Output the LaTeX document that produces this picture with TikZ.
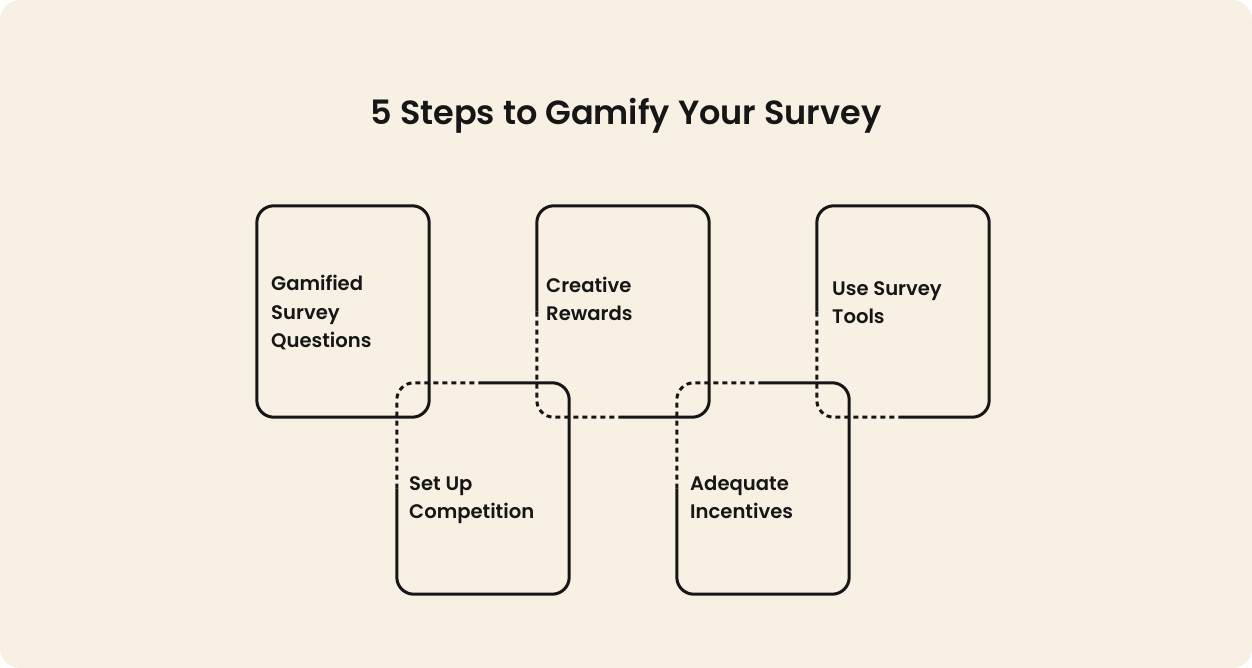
\documentclass[tikz,border=0pt]{standalone}
\usepackage{fontspec}
\setmainfont{Poppins}
\newfontfamily\lblfont{Poppins SemiBold}
\definecolor{bgc}{HTML}{F8F0E2}
\definecolor{ink}{HTML}{161616}
\begin{document}
\begin{tikzpicture}[x=1pt,y=-1pt,
  boxarea/.style={draw=none,minimum width=172pt,minimum height=211pt,inner sep=0pt},
  edge/.style={draw=ink,line width=3pt,rounded corners=17pt},
  dashedge/.style={edge,dash pattern=on 5pt off 4pt},
  lbl/.style={font=\lblfont\fontsize{19.6}{28.5}\selectfont,text=ink,align=left,inner sep=0pt,anchor=west},
  title/.style={font=\lblfont\fontsize{33.5}{38}\selectfont,text=ink,inner sep=0pt,anchor=base}]
\useasboundingbox (0,0) rectangle (1252,668);
\fill[white] (0,0) rectangle (1252,668);
\fill[bgc,rounded corners=20pt] (0,0) rectangle (1252,668);

\node[title] (t) at (626,125) {5 Steps to Gamify Your Survey};

\node[boxarea] (b1) at (343,311.5) {};
\node[boxarea] (b2) at (483,488.5) {};
\node[boxarea] (b3) at (623,311.5) {};
\node[boxarea] (b4) at (763,488.5) {};
\node[boxarea] (b5) at (903,311.5) {};

% box 1: all solid
\draw[edge] (b1.north west) rectangle (b1.south east);
% box 2: top-left quarter dashed
\draw[edge] (b2.north) -- (b2.north east) -- (b2.south east) -- (b2.south west) -- (b2.west);
\draw[dashedge] (b2.west) -- (b2.north west) -- (b2.north);
% box 3: bottom-left quarter dashed
\draw[edge] (b3.south) -- (b3.south east) -- (b3.north east) -- (b3.north west) -- (b3.west);
\draw[dashedge] (b3.west) -- (b3.south west) -- (b3.south);
% box 4: top-left quarter dashed
\draw[edge] (b4.north) -- (b4.north east) -- (b4.south east) -- (b4.south west) -- (b4.west);
\draw[dashedge] (b4.west) -- (b4.north west) -- (b4.north);
% box 5: bottom-left quarter dashed
\draw[edge] (b5.south) -- (b5.south east) -- (b5.north east) -- (b5.north west) -- (b5.west);
\draw[dashedge] (b5.west) -- (b5.south west) -- (b5.south);

\node[lbl] (l1) at (271,313) {Gamified\\Survey\\Questions};
\node[lbl] (l2) at (409,500) {Set Up\\Competition};
\node[lbl] (l3) at (546,299) {Creative\\Rewards};
\node[lbl] (l4) at (690,497.5) {Adequate\\Incentives};
\node[lbl] (l5) at (832,302.5) {Use Survey\\Tools};
\end{tikzpicture}
\end{document}
